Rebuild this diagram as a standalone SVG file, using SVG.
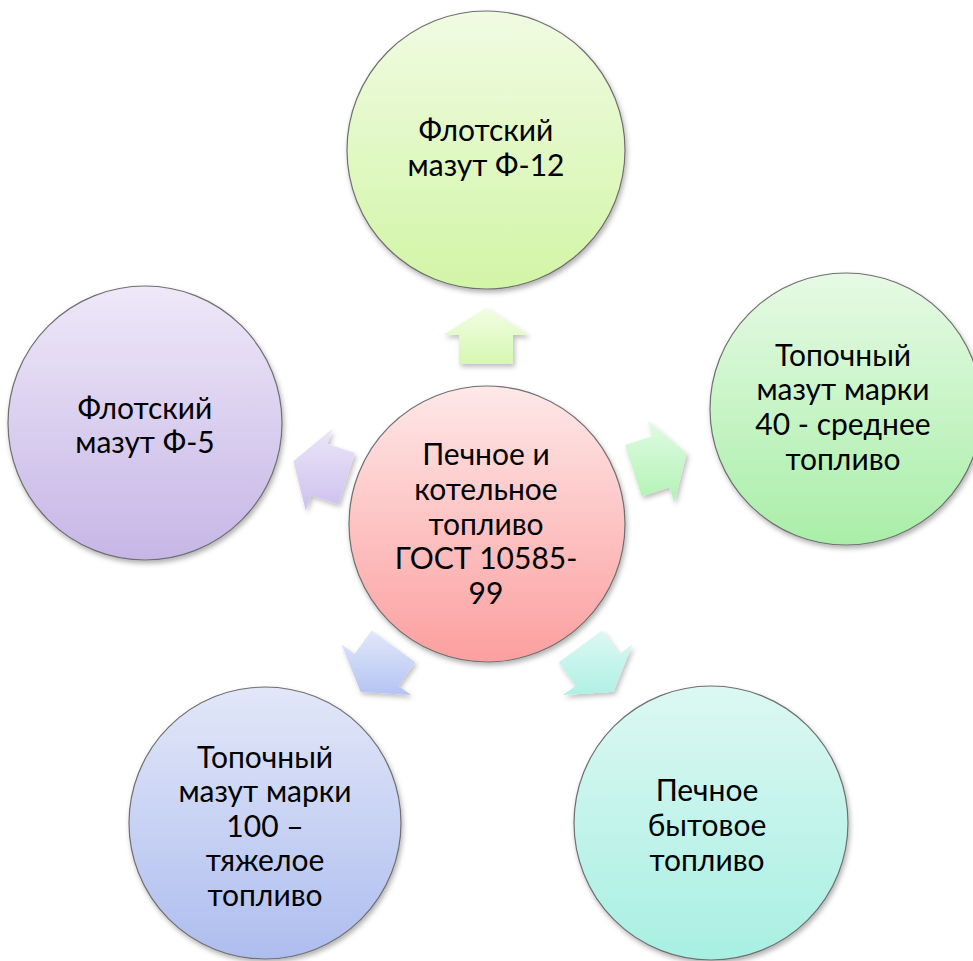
<svg xmlns="http://www.w3.org/2000/svg" width="973" height="961" viewBox="0 0 973 961">
<defs>
<style>
.c{stroke:#6f6f6f;stroke-width:1.2;filter:url(#sh)}
.a{filter:url(#sh2)}
.t{font-family:Lato,"Open Sans","Liberation Sans",sans-serif;font-size:30px;fill:#000;text-anchor:middle}
</style>
<filter id="sh" x="-20%" y="-20%" width="140%" height="140%">
<feDropShadow dx="1.5" dy="3" stdDeviation="2.5" flood-color="#000" flood-opacity="0.3"/>
</filter>
<filter id="sh2" x="-30%" y="-30%" width="160%" height="160%">
<feDropShadow dx="2" dy="3" stdDeviation="2.5" flood-color="#000" flood-opacity="0.25"/>
</filter>
<linearGradient id="gTop" x1="0" y1="0" x2="0" y2="1"><stop offset="0" stop-color="#f0fbe2"/><stop offset="1" stop-color="#d2f5a6"/></linearGradient>
<linearGradient id="gRight" x1="0" y1="0" x2="0" y2="1"><stop offset="0" stop-color="#e6fae4"/><stop offset="1" stop-color="#a9eea8"/></linearGradient>
<linearGradient id="gLeft" x1="0" y1="0" x2="0" y2="1"><stop offset="0" stop-color="#eee8f8"/><stop offset="1" stop-color="#c6b6e6"/></linearGradient>
<linearGradient id="gBL" x1="0" y1="0" x2="0" y2="1"><stop offset="0" stop-color="#e2e7f8"/><stop offset="1" stop-color="#aebdef"/></linearGradient>
<linearGradient id="gBR" x1="0" y1="0" x2="0" y2="1"><stop offset="0" stop-color="#dcf8f2"/><stop offset="1" stop-color="#a8efe3"/></linearGradient>
<linearGradient id="gC" x1="0" y1="0" x2="0" y2="1"><stop offset="0" stop-color="#fee8e8"/><stop offset="1" stop-color="#fc9f9f"/></linearGradient>
<linearGradient id="aTop" x1="0" y1="0" x2="0" y2="1"><stop offset="0" stop-color="#f2fde2"/><stop offset="1" stop-color="#d6f8b2"/></linearGradient>
<linearGradient id="aRight" x1="0" y1="0" x2="0" y2="1"><stop offset="0" stop-color="#e0fbe2"/><stop offset="1" stop-color="#b2f2b4"/></linearGradient>
<linearGradient id="aLeft" x1="0" y1="0" x2="0" y2="1"><stop offset="0" stop-color="#ebe6f8"/><stop offset="1" stop-color="#cdc0ee"/></linearGradient>
<linearGradient id="aBL" x1="0" y1="0" x2="0" y2="1"><stop offset="0" stop-color="#e2e8fa"/><stop offset="1" stop-color="#b4c3f2"/></linearGradient>
<linearGradient id="aBR" x1="0" y1="0" x2="0" y2="1"><stop offset="0" stop-color="#dcf8f3"/><stop offset="1" stop-color="#b0f0e5"/></linearGradient>
</defs>
<rect width="973" height="961" fill="#ffffff"/>

<g id="connectors">
<polygon class="a" fill="url(#aTop)" transform="translate(486,336)" points="0,-28 43,-1 27,-1 27,28 -27,28 -27,-1 -43,-1"/>
<polygon class="a" fill="url(#aRight)" transform="translate(660,462)" points="26.6,-8.7 14.24,40.58 9.29,25.37 -18.29,34.33 -34.97,-17.03 -7.39,-25.99 -12.34,-41.2"/>
<polygon class="a" fill="url(#aLeft)" transform="translate(320,470)" points="-26.6,-8.7 -14.24,40.58 -9.29,25.37 18.29,34.33 34.97,-17.03 7.39,-25.99 12.34,-41.2"/>
<polygon class="a" fill="url(#aBR)" transform="translate(597,669)" points="16.46,22.65 -34.2,26.09 -21.26,16.69 -38.3,-6.77 5.38,-38.53 22.43,-15.07 35.38,-24.47"/>
<polygon class="a" fill="url(#aBL)" transform="translate(377,669)" points="-16.46,22.65 34.2,26.09 21.26,16.69 38.3,-6.77 -5.38,-38.53 -22.43,-15.07 -35.38,-24.47"/>
</g>

<g id="node-top">
<circle class="c" cx="486" cy="150" r="139" fill="url(#gTop)"/>
<text class="t" x="486" y="141">Флотский</text>
<text class="t" x="486" y="176">мазут Ф-12</text>
</g>

<g id="node-right">
<circle class="c" cx="846" cy="409" r="136" fill="url(#gRight)"/>
<text class="t" x="843" y="366">Топочный</text>
<text class="t" x="843" y="400">мазут марки</text>
<text class="t" x="843" y="435">40 - среднее</text>
<text class="t" x="843" y="470">топливо</text>
</g>

<g id="node-left">
<circle class="c" cx="145" cy="423" r="137" fill="url(#gLeft)"/>
<text class="t" x="145" y="419">Флотский</text>
<text class="t" x="145" y="453">мазут Ф-5</text>
</g>

<g id="node-bottom-left">
<circle class="c" cx="265" cy="823" r="136" fill="url(#gBL)"/>
<text class="t" x="265" y="768">Топочный</text>
<text class="t" x="265" y="802">мазут марки</text>
<text class="t" x="265" y="837">100 –</text>
<text class="t" x="265" y="871">тяжелое</text>
<text class="t" x="265" y="906">топливо</text>
</g>

<g id="node-bottom-right">
<circle class="c" cx="711" cy="823" r="137" fill="url(#gBR)"/>
<text class="t" x="707" y="801">Печное</text>
<text class="t" x="707" y="836">бытовое</text>
<text class="t" x="707" y="871">топливо</text>
</g>

<g id="node-center">
<circle class="c" cx="487" cy="524" r="138" fill="url(#gC)"/>
<text class="t" x="486" y="465">Печное и</text>
<text class="t" x="486" y="500">котельное</text>
<text class="t" x="486" y="535">топливо</text>
<text class="t" x="486" y="569">ГОСТ 10585-</text>
<text class="t" x="486" y="604">99</text>
</g>
</svg>
